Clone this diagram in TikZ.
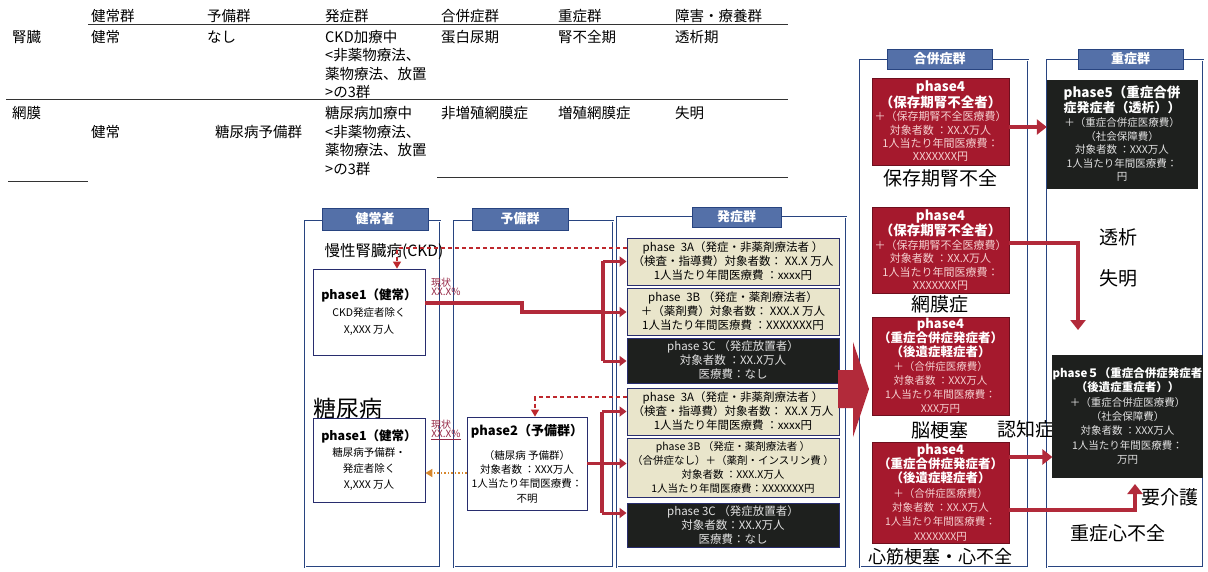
\documentclass[tikz,border=0pt]{standalone}
\usepackage{fontspec}
\setmainfont{Noto Sans CJK JP}
\usetikzlibrary{arrows.meta}
\definecolor{tabblue}{RGB}{84,112,168}
\definecolor{frameblue}{RGB}{40,68,128}
\definecolor{beige}{RGB}{233,229,203}
\definecolor{navyedge}{RGB}{40,45,110}
\definecolor{darkbox}{RGB}{30,32,30}
\definecolor{crimson}{RGB}{165,25,45}
\definecolor{crimsonedge}{RGB}{110,15,30}
\definecolor{arrowred}{RGB}{178,42,58}
\definecolor{dashredc}{RGB}{190,40,45}
\definecolor{orangec}{RGB}{215,135,45}
\definecolor{genjored}{RGB}{150,40,70}
\definecolor{pinktext}{RGB}{245,208,208}
\definecolor{greytext}{RGB}{225,225,225}
\newcommand\myfs[2]{\fontsize{#1}{#2}\selectfont}
\begin{document}
\begin{tikzpicture}[x=1pt,y=-1pt,
  tbl/.style={anchor=west, inner sep=0, align=left, font=\myfs{14.5}{18.4}},
  tblline/.style={draw=black!80, line width=0.8pt},
  colframe/.style={draw=frameblue, line width=1.6pt},
  colinner/.style={draw=white, line width=0.5pt},
  tab/.style={draw=frameblue, line width=0.8pt, fill=tabblue, text=white, inner sep=0, font=\bfseries\myfs{13}{15}},
  whitebox/.style={draw=navyedge, line width=0.8pt, fill=white, inner sep=0, align=center},
  beigebox/.style={draw=navyedge, line width=1pt, fill=beige, minimum width=212, inner sep=0, align=center, font=\myfs{11.5}{14}},
  blackbox/.style={draw=navyedge, line width=1pt, fill=darkbox, text=greytext, minimum width=212, inner sep=0, align=center, font=\myfs{11.5}{14}},
  redbox/.style={draw=crimsonedge, line width=0.8pt, fill=crimson, text=pinktext, minimum width=137, inner sep=0, align=center, font=\myfs{11}{13.4}},
  darkbox5/.style={draw=darkbox, fill=darkbox, text=greytext, inner sep=0, align=center, font=\myfs{10.5}{13.6}},
  biglabel/.style={inner sep=0, font=\myfs{19}{22}},
  genjo/.style={inner sep=0, text=genjored, font=\myfs{10}{11}},
  redline/.style={draw=arrowred, line width=3.5pt},
  brarrow/.style={draw=arrowred, line width=3pt, -{Triangle[length=7pt,width=10pt]}},
  bigred/.style={draw=arrowred, line width=4.5pt, -{Triangle[length=10pt,width=15pt]}},
  dashredl/.style={draw=dashredc, line width=1.3pt, dash pattern=on 4pt off 3pt, -{Triangle[length=7pt,width=8pt]}},
  orangedot/.style={draw=orangec, line width=1.5pt, dash pattern=on 1.5pt off 2pt, -{Triangle[length=7pt,width=8pt]}}
]
\useasboundingbox (0,0) rectangle (1208,571);
\fill[white] (0,0) rectangle (1208,571);

% ---------- top table ----------
\node[tbl] (h1) at (91,16) {健常群};
\node[tbl] (h2) at (207,16) {予備群};
\node[tbl] (h3) at (325,16) {発症群};
\node[tbl] (h4) at (441,16) {合併症群};
\node[tbl] (h5) at (558,16) {重症群};
\node[tbl] (h6) at (675,16) {障害・療養群};
\draw[tblline] (88,24) -- (788,24);

\node[tbl] (r1a) at (12,37) {腎臓};
\node[tbl] (r1b) at (91,37) {健常};
\node[tbl] (r1c) at (207,37) {なし};
\node[tbl] (r1d) at (325,64.5) {CKD加療中\\<非薬物療法、\\薬物療法、放置\\>の3群};
\node[tbl] (r1e) at (441,37) {蛋白尿期};
\node[tbl] (r1f) at (558,37) {腎不全期};
\node[tbl] (r1g) at (675,37) {透析期};
\draw[tblline] (6,99) -- (788,99);

\node[tbl] (r2a) at (12,113) {網膜};
\node[tbl] (r2b) at (91,132) {健常};
\node[tbl] (r2c) at (215,132) {糖尿病予備群};
\node[tbl] (r2d) at (325,141) {糖尿病加療中\\<非薬物療法、\\薬物療法、放置\\>の3群};
\node[tbl] (r2e) at (441,113) {非増殖網膜症};
\node[tbl] (r2f) at (558,113) {増殖網膜症};
\node[tbl] (r2g) at (675,113) {失明};
\draw[tblline] (8,181) -- (88,181);
\draw[tblline] (437,177) -- (788,177);

% ---------- column frames ----------
\draw[colframe] (305,221) rectangle (440,567);
\draw[colframe] (454,221) rectangle (613,567);
\draw[colframe] (617,217) rectangle (846,567);
\draw[colframe] (860,60) rectangle (1028,567);
\draw[colframe] (1047,60) rectangle (1203,567);
\draw[colinner] (305,221) rectangle (440,567);
\draw[colinner] (454,221) rectangle (613,567);
\draw[colinner] (617,217) rectangle (846,567);
\draw[colinner] (860,60) rectangle (1028,567);
\draw[colinner] (1047,60) rectangle (1203,567);

\node[tab, minimum width=106, minimum height=22] (t1) at (375,219) {健常者};
\node[tab, minimum width=96, minimum height=22] (t2) at (520,219) {予備群};
\node[tab, minimum width=89, minimum height=20] (t3) at (736.5,217) {発症群};
\node[tab, minimum width=105, minimum height=20] (t4) at (939.5,59) {合併症群};
\node[tab, minimum width=105, minimum height=20] (t5) at (1130.5,59) {重症群};

% ---------- 健常者 ----------
\node[inner sep=0, font=\myfs{15.5}{18}] (ckd) at (384,252) {慢性腎臓病(CKD)};
\node[whitebox, minimum width=112, minimum height=86, font=\myfs{10.5}{17}] (p1a) at (369,312)
  {{\bfseries\myfs{12.5}{17}phase1（健常）}\\CKD発症者除く\\X,XXX 万人};
\node[inner sep=0, font=\myfs{23}{26}] (dm) at (348,409) {糖尿病};
\node[whitebox, minimum width=112, minimum height=84, font=\myfs{10.5}{16}] (p1b) at (369,460)
  {{\bfseries\myfs{12.5}{16}phase1（健常）}\\糖尿病予備群・\\発症者除く\\X,XXX 万人};
\node[genjo] (g1) at (441,283) {現状};
\node[genjo] (g1p) at (446,292) {XX.X\%};
\node[genjo] (g2) at (441,425) {現状};
\node[genjo] (g2p) at (446,435) {\underline{XX.X\%}};

% ---------- 予備群 ----------
\node[whitebox, minimum width=120, minimum height=93, font=\myfs{10.5}{14.3}] (p2) at (527,463.5)
  {{\bfseries\myfs{13}{14.3}phase2（予備群）}\\[10pt]（糖尿病 予備群）\\対象者数 ：XXX万人\\1人当たり年間医療費：\\不明};

% ---------- 発症群 ----------
\node[beigebox, minimum height=47] (s3a1) at (733,261.5)
  {phase\,\,\,3A（発症・非薬剤療法者 ）\\（検査・指導費）対象者数： XX.X 万人\\1人当たり年間医療費 ：xxxx円};
\node[beigebox, minimum height=47] (s3b1) at (733,311.5)
  {phase\,\,\,3B （発症・薬剤療法者）\\＋（薬剤費）対象者数： XXX.X 万人\\1人当たり年間医療費 ：XXXXXXX円};
\node[blackbox, minimum height=45] (s3c1) at (733,360.5)
  {phase 3C （発症放置者）\\対象者数 ：XX.X万人\\医療費：なし};
\node[beigebox, minimum height=47] (s3a2) at (733,411.5)
  {phase\,\,\,3A（発症・非薬剤療法者 ）\\（検査・指導費）対象者数： XX.X 万人\\1人当たり年間医療費 ：xxxx円};
\node[beigebox, minimum height=59, font=\myfs{10.5}{14}] (s3b2) at (733,467.5)
  {phase 3B （発症・薬剤療法者 ）\\（合併症なし）＋（薬剤・インスリン費 ）\\対象者数 ：XXX.X万人\\1人当たり年間医療費：XXXXXXX円};
\node[blackbox, minimum height=44] (s3c2) at (733,525)
  {phase 3C （発症放置者）\\対象者数：XX.X万人\\医療費：なし};

% big arrow between 発症群 and 合併症群
\fill[arrowred] (838,370) -- (853,370) -- (853,342) -- (869,389) -- (853,437) -- (853,408) -- (838,408) -- cycle;

% ---------- 合併症群 ----------
\node[redbox, minimum height=87] (k1) at (940.5,121.5)
  {{\color{white}\bfseries\myfs{13.5}{13.4}phase4}\\{\color{white}\bfseries\myfs{13.5}{13.4}（保存期腎不全者）}\\＋（保存期腎不全医療費）\\対象者数 ：XX.X万人\\1人当たり年間医療費：\\XXXXXXX円};
\node[biglabel] (lb1) at (940,178) {保存期腎不全};
\node[redbox, minimum height=86] (k2) at (940.5,250)
  {{\color{white}\bfseries\myfs{13.5}{13.4}phase4}\\{\color{white}\bfseries\myfs{13.5}{13.4}（保存期腎不全者）}\\＋（保存期腎不全医療費）\\対象者数 ：XX.X万人\\1人当たり年間医療費：\\XXXXXXX円};
\node[biglabel] (lb2) at (940,304) {網膜症};
\node[redbox, minimum height=98, font=\myfs{10.5}{14}] (k3) at (940.5,366)
  {{\color{white}\bfseries\myfs{13}{14}phase4}\\{\color{white}\bfseries\myfs{12.5}{14}（重症合併症発症者）}\\{\color{white}\bfseries\myfs{12.5}{14}（後遺症軽症者）}\\＋（合併症医療費）\\対象者数 ：XXX万人\\1人当たり年間医療費：\\XXX万円};
\node[biglabel] (lb3) at (940,430) {脳梗塞};
\node[biglabel] (lb4) at (1026,429) {認知症};
\node[redbox, minimum height=101, font=\myfs{10.5}{14.3}] (k4) at (940.5,492.5)
  {{\color{white}\bfseries\myfs{13}{14.3}phase4}\\{\color{white}\bfseries\myfs{12.5}{14.3}（重症合併症発症者）}\\{\color{white}\bfseries\myfs{12.5}{14.3}（後遺症軽症者）}\\＋（合併症医療費）\\対象者数 ：XX.X万人\\1人当たり年間医療費：\\XXXXXXX円};
\node[biglabel, font=\myfs{18}{22}] (lb5) at (940,557) {心筋梗塞・心不全};

% ---------- 重症群 ----------
\node[darkbox5, minimum width=150, minimum height=108] (j1) at (1122,134)
  {{\color{white}\bfseries\myfs{13.5}{14.5}phase5（重症合併}\\{\color{white}\bfseries\myfs{13}{14.5}症発症者（透析））}\\＋（重症合併症医療費）\\（社会保障費）\\対象者数 ：XXX万人\\1人当たり年間医療費：\\円};
\node[biglabel] (lb6) at (1118,237) {透析};
\node[biglabel] (lb7) at (1118,278) {失明};
\node[darkbox5, minimum width=141, minimum height=122, font=\myfs{10.5}{14.4}] (j2) at (1127.5,416)
  {{\color{white}\bfseries\myfs{11.5}{14.4}phase５（重症合併症発症者}\\{\color{white}\bfseries\myfs{11.5}{14.4}（後遺症重症者））}\\＋（重症合併症医療費）\\（社会保障費）\\対象者数 ：XXX万人\\1人当たり年間医療費：\\万円};
\node[biglabel] (lb8) at (1170,497) {要介護};
\node[biglabel] (lb9) at (1118,533) {重症心不全};

% ---------- connectors ----------
\draw[redline] ([yshift=9pt]p1a.east) -- (522,303) -- (522,312) -- (603,312);
\draw[redline] (603,261) -- (603,361);
\draw[brarrow] (603,261.5) -- (s3a1.west);
\draw[brarrow] (603,312) -- (s3b1.west |- 0,312);
\draw[brarrow] (603,361) -- (s3c1.west |- 0,361);

\draw[redline] (p2.east) -- (602,463.5);
\draw[redline] (602,411.5) -- (602,513);
\draw[brarrow] (602,411.5) -- (s3a2.west);
\draw[brarrow] (602,463.5) -- (s3b2.west |- 0,463.5);
\draw[brarrow] (602,513) -- (s3c2.west |- 0,513);

\draw[dashredl] (s3a1.west |- 0,248) -- (397,248) -- (p1a.north -| 397,0);
\draw[dashredl] (s3a2.west |- 0,397) -- (535,397) -- (p2.north -| 535,0);
\draw[orangedot] (p2.west |- 0,473) -- (p1b.east |- 0,473);

\coordinate (tdown) at (1078,330);
\coordinate (kaigo) at (1135,484);
\draw[bigred] (k1.east |- 0,127) -- (j1.west |- 0,127);
\draw[bigred] (k2.east |- 0,243) -| (tdown);
\draw[bigred] (k4.east |- 0,457) -- (j2.west |- 0,457);
\draw[bigred] (k4.east |- 0,510) -| (kaigo);
\end{tikzpicture}
\end{document}
